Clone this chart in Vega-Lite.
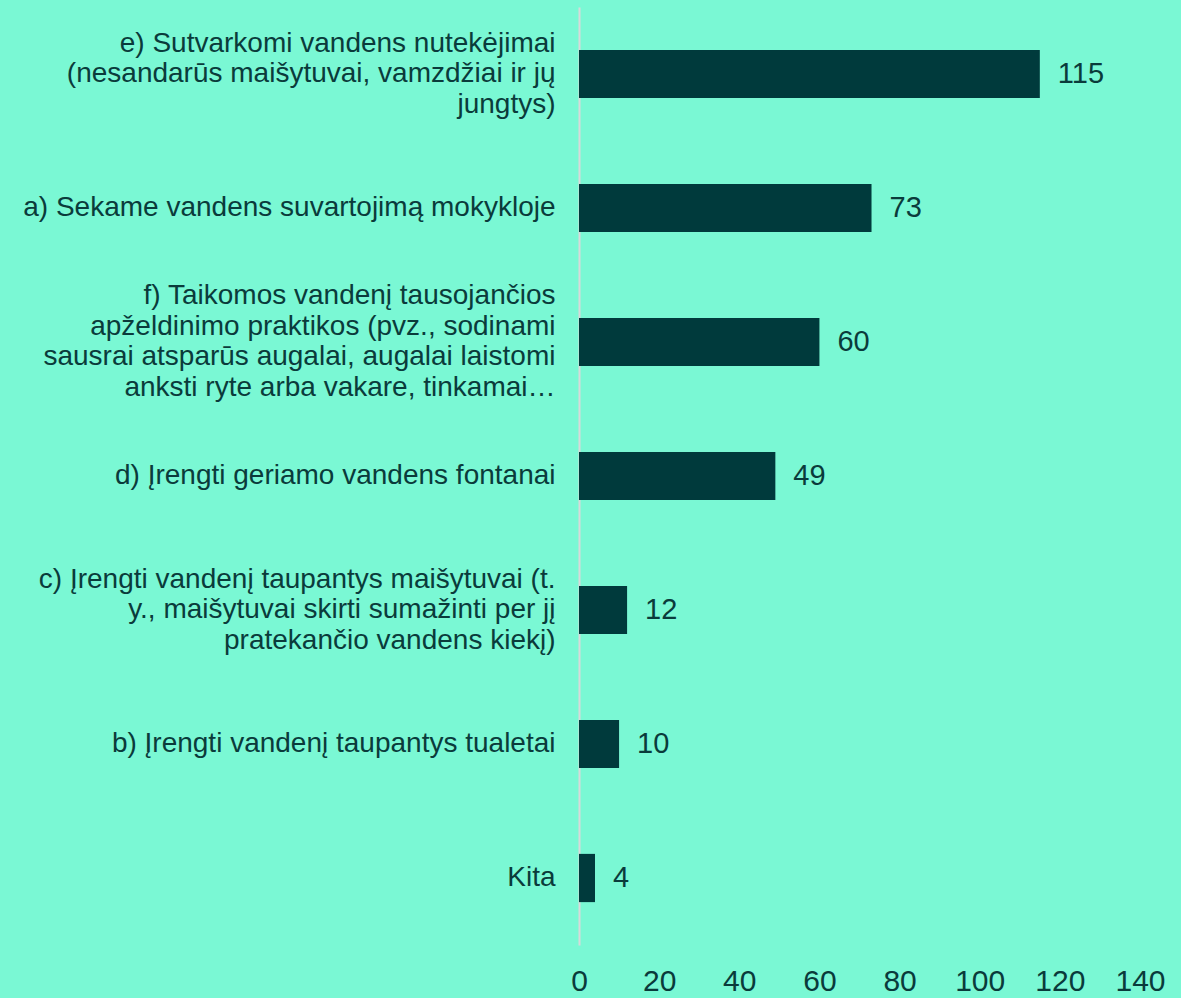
{
  "$schema": "https://vega.github.io/schema/vega-lite/v6.json",
  "autosize": "none",
  "width": 561,
  "height": 938,
  "padding": {"left": 579, "top": 7, "right": 41, "bottom": 53},
  "background": "#7AF8D4",
  "config": {"view": {"stroke": null}, "font": "Liberation Sans"},
  "data": {
    "values": [
      {"label": "e) Sutvarkomi vandens nutekėjimai|(nesandarūs maišytuvai,  vamzdžiai ir jų|jungtys)", "value": 115},
      {"label": "a) Sekame vandens suvartojimą mokykloje", "value": 73},
      {"label": "f) Taikomos vandenį tausojančios|apželdinimo praktikos (pvz., sodinami|sausrai atsparūs augalai, augalai laistomi|anksti ryte arba vakare, tinkamai…", "value": 60},
      {"label": "d) Įrengti geriamo vandens fontanai", "value": 49},
      {"label": "c) Įrengti vandenį taupantys maišytuvai  (t.|y., maišytuvai skirti sumažinti per jį|pratekančio vandens kiekį)", "value": 12},
      {"label": "b) Įrengti vandenį taupantys tualetai", "value": 10},
      {"label": "Kita", "value": 4}
    ]
  },
  "encoding": {
    "y": {
      "field": "label",
      "type": "nominal",
      "sort": null,
      "scale": {"paddingInner": 0.64, "paddingOuter": 0.32},
      "axis": {
        "title": null,
        "ticks": false,
        "domain": true,
        "domainColor": "#D9D9D9",
        "domainWidth": 2,
        "labelExpr": "split(datum.label, '|')",
        "labelFont": "Liberation Sans",
        "labelFontSize": 28,
        "labelLineHeight": 30.5,
        "labelColor": "#0A3B3B",
        "labelAlign": "right",
        "labelBaseline": "middle",
        "labelOffset": {"expr": "-(length(split(datum.value, '|')) - 1) * 15.25"},
        "labelPadding": 24,
        "labelLimit": 700
      }
    },
    "x": {
      "field": "value",
      "type": "quantitative",
      "scale": {"domain": [0, 140], "nice": false},
      "axis": {
        "title": null,
        "values": [0, 20, 40, 60, 80, 100, 120, 140],
        "grid": false,
        "ticks": false,
        "domain": false,
        "labelFont": "Liberation Sans",
        "labelFontSize": 30,
        "labelColor": "#0A3B3B",
        "labelPadding": 21,
        "labelFlush": false,
        "labelOverlap": false
      }
    }
  },
  "layer": [
    {"mark": {"type": "bar", "color": "#003A3C"}},
    {
      "mark": {"type": "text", "align": "left", "baseline": "middle", "dx": 18, "fontSize": 29, "color": "#0A3B3B", "font": "Liberation Sans"},
      "encoding": {"text": {"field": "value", "type": "quantitative"}}
    }
  ]
}
